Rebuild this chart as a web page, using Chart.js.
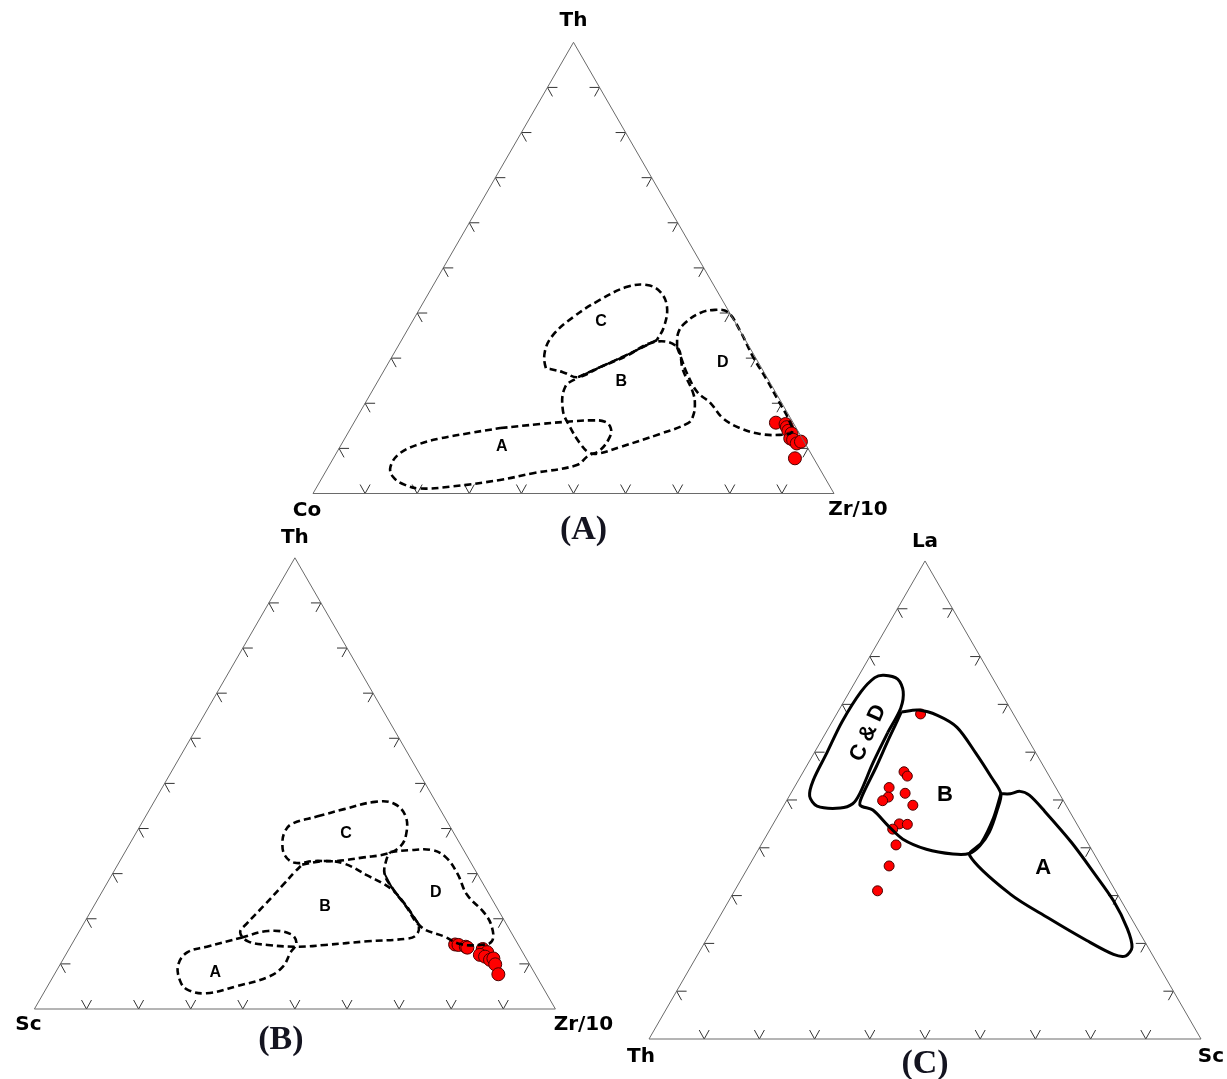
<!DOCTYPE html>
<html><head><meta charset="utf-8">
<script src="https://cdn.jsdelivr.net/npm/chart.js@4.4.1/dist/chart.umd.min.js"></script>
<style>
html,body{margin:0;padding:0;background:#fff;}
#wrap{position:relative;width:1227px;height:1079px;overflow:hidden;background:#fff;}
canvas{position:absolute;left:0;top:0;}
</style></head><body>
<div id="wrap">
<canvas id="cA" width="1227" height="1079"></canvas>
<canvas id="cB" width="1227" height="1079"></canvas>
<canvas id="cC" width="1227" height="1079"></canvas>
</div>
<script>
// ---------------- DATA (percentages: [top, left, right]) ----------------
const tickValues = [10,20,30,40,50,60,70,80,90];

// Diagram (A): Th (top) – Co (left) – Zr/10 (right)
const a_vertexLabels = ['Th','Co','Zr/10'];
const a_samples = [[15.7,3.3,81.0],[15.4,1.6,83.0],[14.7,1.7,83.6],[13.9,1.8,84.3],[13.3,1.5,85.2],[12.2,2.3,85.5],[11.9,1.9,86.2],[11.1,1.6,87.3],[11.5,0.6,87.9],[7.8,3.6,88.6]];
const a_fieldA = [[14.5,56.8,28.7],[15.4,48.7,35.9],[15.9,43.4,40.7],[16.2,38.7,45.1],[15.9,36.0,48.1],[14.5,35.6,49.9],[12.5,36.8,50.7],[9.6,40.1,50.3],[8.3,43.1,48.6],[6.3,46.2,47.5],[4.5,55.5,40.0],[3.0,62.6,34.4],[1.5,73.0,25.5],[1.1,78.9,20.0],[1.9,81.4,16.7],[3.7,82.8,13.5],[5.9,82.1,11.9],[8.9,78.9,12.2],[11.0,74.0,15.0],[12.2,69.5,18.3],[13.4,63.2,23.4]];
const a_fieldB = [[25.8,36.2,38.0],[28.0,30.9,41.1],[30.3,25.0,44.7],[33.6,17.6,48.8],[32.5,13.9,53.6],[27.4,15.3,57.3],[22.3,15.9,61.8],[19.6,16.9,63.5],[17.0,18.6,64.4],[15.6,20.2,64.2],[13.2,26.8,60.0],[10.3,35.9,53.8],[8.8,41.1,50.1],[9.2,42.6,48.2],[11.2,43.2,45.6],[14.7,43.3,42.0],[18.5,42.8,38.7],[23.6,39.8,36.6]];
const a_fieldC = [[34.0,17.0,49.0],[30.5,24.9,44.6],[28.0,30.9,41.1],[25.8,36.2,38.0],[26.9,38.6,34.5],[27.6,40.7,31.7],[27.8,41.4,30.8],[31.4,39.8,28.8],[35.1,36.4,28.5],[39.1,30.5,30.4],[42.9,23.5,33.6],[45.8,16.8,37.4],[46.2,12.8,41.0],[44.7,11.0,44.3],[41.3,11.4,47.3],[36.9,14.2,48.9]];
const a_fieldD = [[32.5,13.9,53.6],[35.6,12.1,52.3],[37.8,9.7,52.5],[40.0,5.7,54.3],[40.7,2.5,56.8],[40.2,0.3,59.5],[36.0,0.0,64.0],[30.3,0.4,69.3],[25.2,0.3,74.5],[20.7,0.4,78.9],[16.3,0.5,83.2],[13.6,1.3,85.1],[13.0,3.9,83.1],[13.2,7.6,79.2],[14.5,10.8,74.7],[16.7,13.0,70.3],[20.1,13.7,66.2],[22.5,15.0,62.5],[26.7,14.9,58.4],[29.6,14.4,56.0]];
const a_solidBC = [[25.8,36.2,38.0],[28.0,30.9,41.1],[30.5,24.9,44.6],[34.0,17.0,49.0]];
const a_fieldNames = ['A','B','C','D'];
const a_fieldLabelPos = [[10.3,58.6,31.1],[24.9,28.4,46.7],[38.0,25.7,36.3],[29.1,6.8,64.1]];

// Diagram (B): Th (top) – Sc (left) – Zr/10 (right)
const b_vertexLabels = ['Th','Sc','Zr/10'];
const b_samples = [[14.3,12.1,73.6],[14.2,11.5,74.3],[13.8,10.3,75.9],[13.6,10.1,76.3],[13.3,7.3,79.4],[12.6,6.8,80.6],[12.0,8.5,79.5],[11.6,7.7,80.7],[10.9,7.1,82.0],[11.2,6.3,82.5],[9.9,6.6,83.5],[7.7,7.1,85.2]];
const b_fieldA = [[15.8,52.4,31.8],[17.3,46.5,36.2],[16.6,42.5,40.9],[14.6,42.4,43.0],[12.6,44.5,42.9],[9.4,47.6,43.0],[7.1,51.6,41.3],[5.1,58.5,36.4],[3.5,65.2,31.3],[4.3,68.5,27.2],[6.3,68.9,24.8],[9.8,67.5,22.7],[12.6,64.3,23.1],[13.8,60.0,26.2]];
const b_fieldB = [[32.0,32.6,35.4],[32.8,27.8,39.4],[32.2,24.4,43.4],[29.6,21.3,49.1],[26.8,18.3,54.9],[24.1,17.4,58.5],[20.5,17.0,62.5],[18.2,17.1,64.7],[16.4,18.5,65.1],[15.6,20.6,63.8],[15.0,28.6,56.4],[14.2,37.1,48.7],[13.8,42.4,43.8],[14.2,48.1,37.7],[15.0,51.5,33.5],[17.0,52.0,31.0],[18.9,49.8,31.3],[22.9,44.5,32.6],[27.6,38.4,34.0],[30.4,34.8,34.8]];
const b_fieldC = [[42.7,24.3,33.0],[44.3,18.4,37.3],[45.9,11.7,42.4],[45.5,8.2,46.3],[42.7,7.4,49.9],[38.7,9.3,52.0],[36.0,11.8,52.2],[34.4,15.2,50.4],[33.6,20.0,46.4],[32.8,25.6,41.6],[32.8,30.0,37.2],[32.4,33.8,33.8],[34.0,34.9,31.1],[36.8,34.0,29.2],[39.5,32.1,28.4],[41.1,29.9,29.0]];
const b_fieldD = [[34.8,14.3,50.9],[35.2,10.4,54.4],[35.2,6.0,58.8],[33.6,4.2,62.2],[30.0,3.8,66.2],[25.3,4.3,70.4],[21.3,3.0,75.7],[18.2,3.1,78.7],[15.0,4.7,80.3],[14.2,7.4,78.4],[14.4,11.1,74.5],[16.0,13.2,70.8],[18.2,16.7,65.1],[22.9,17.3,59.8],[26.8,17.9,55.3],[30.0,17.8,52.2],[33.2,15.8,51.0]];
const b_solidBD = [[30.0,17.8,52.2],[26.8,17.9,55.3],[22.9,17.3,59.8],[18.2,16.7,65.1]];
const b_fieldNames = ['A','B','C','D'];
const b_fieldLabelPos = [[8.0,61.3,30.7],[22.6,32.9,44.5],[38.8,20.8,40.4],[25.7,10.1,64.2]];

// Diagram (C): La (top) – Th (left) – Sc (right)
const c_vertexLabels = ['La','Th','Sc'];
const c_samples = [[68.0,16.8,15.2],[55.9,25.85,18.25],[55.0,25.7,19.3],[52.6,30.2,17.2],[50.6,31.35,18.05],[49.85,32.75,17.4],[51.4,27.9,20.7],[48.9,27.75,23.35],[45.0,32.15,22.85],[44.9,30.75,24.35],[43.9,33.9,22.2],[40.6,34.95,24.45],[36.2,38.4,25.4],[31.0,43.1,25.9]];
const c_fieldCD = [[64.1,24.7,11.2],[57.7,30.6,11.7],[51.5,36.0,12.5],[49.2,38.5,12.3],[48.3,41.2,10.5],[48.7,45.2,6.1],[50.8,45.5,3.7],[54.1,43.2,2.7],[59.8,37.9,2.3],[66.3,31.9,1.8],[72.7,25.2,2.1],[75.6,21.3,3.1],[76.1,19.4,4.5],[75.3,17.3,7.4],[72.7,17.6,9.7],[69.2,19.8,11.0]];
const c_fieldB = [[68.4,20.1,11.5],[68.8,16.8,14.4],[67.7,13.9,18.4],[65.2,11.6,23.2],[59.8,10.9,29.3],[54.8,10.6,34.6],[51.3,10.6,38.1],[47.6,13.2,39.2],[43.3,16.7,40.0],[40.4,19.9,39.7],[38.8,22.6,38.6],[38.7,25.6,35.7],[39.7,29.9,30.4],[41.8,33.1,25.1],[44.7,34.4,20.9],[47.9,35.5,16.6],[48.9,37.3,13.8],[50.8,36.0,13.2],[56.9,30.4,12.7],[62.3,25.6,12.1],[66.6,21.7,11.7]];
const c_fieldA = [[51.3,10.6,38.1],[51.3,8.9,39.8],[51.8,6.9,41.3],[51.0,5.6,43.4],[47.6,4.5,47.9],[41.1,2.9,56.0],[34.6,2.0,63.4],[28.9,1.4,69.7],[23.1,1.8,75.1],[19.2,2.9,77.9],[17.4,4.9,77.7],[17.7,7.0,75.3],[20.6,10.4,69.0],[25.3,15.0,59.7],[30.3,19.4,50.3],[38.4,22.7,38.9],[41.1,19.2,39.7],[46.2,14.5,39.3]];
const c_fieldNames = ['B','A','C & D'];
const c_fieldLabelPos = [[51.0,20.9,28.1],[35.8,10.7,53.5],[64.0,28.3,7.7]];

// ---------------- helpers ----------------
const SQ = Math.sqrt(3) / 2;
function toXY(t) {
  const s = t[0] + t[1] + t[2];
  const top = t[0] / s, right = t[2] / s;
  return { x: right + top / 2, y: top * SQ };
}
function closed(arr) { return arr.concat([arr[0]]).map(toXY); }

function makeDiagram(id, g, cfg) {
  const W = 1227, H = 1079;
  const scales = {
    x: { type: 'linear', min: -g.x0 / g.L, max: (W - g.x0) / g.L, display: false },
    y: { type: 'linear', min: (g.yb - H) / g.L, max: g.yb / g.L, display: false }
  };
  const datasets = [];
  datasets.push({ data: closed([[100,0,0],[0,100,0],[0,0,100]]), showLine: true, borderColor: '#6a6a6a', borderWidth: 1, pointRadius: 0, tension: 0 });
  cfg.fields.forEach(f => datasets.push({ data: closed(f), showLine: true, borderColor: '#000', borderWidth: cfg.fieldWidth, borderDash: cfg.dash, pointRadius: 0, tension: cfg.tension, borderJoinStyle: 'round', borderCapStyle: 'butt' }));
  (cfg.solids || []).forEach(f => datasets.push({ data: f.map(toXY), showLine: true, borderColor: '#000', borderWidth: 2, pointRadius: 0, tension: 0.3 }));
  datasets.push({ data: cfg.samples.map(toXY), showLine: false, pointRadius: cfg.r, pointBackgroundColor: '#ff0000', pointBorderColor: '#4a0000', pointBorderWidth: 1 });

  const decor = {
    id: 'decor' + id,
    beforeDatasetsDraw(chart) {
      const ctx = chart.ctx, sx = chart.scales.x, sy = chart.scales.y;
      const P = t => { const q = toXY(t); return { x: sx.getPixelForValue(q.x), y: sy.getPixelForValue(q.y) }; };
      ctx.save();
      ctx.strokeStyle = '#333'; ctx.lineWidth = 1;
      tickValues.forEach(k => {
        let p = P([0, 100 - k, k]);
        ctx.beginPath(); ctx.moveTo(p.x - 5, p.y - 9); ctx.lineTo(p.x, p.y); ctx.lineTo(p.x + 5, p.y - 9); ctx.stroke();
        p = P([k, 100 - k, 0]);
        ctx.beginPath(); ctx.moveTo(p.x + 10, p.y); ctx.lineTo(p.x, p.y); ctx.lineTo(p.x + 5, p.y + 9); ctx.stroke();
        p = P([k, 0, 100 - k]);
        ctx.beginPath(); ctx.moveTo(p.x - 10, p.y); ctx.lineTo(p.x, p.y); ctx.lineTo(p.x - 5, p.y + 9); ctx.stroke();
      });
      ctx.restore();
    },
    afterDatasetsDraw(chart) {
      const ctx = chart.ctx, sx = chart.scales.x, sy = chart.scales.y;
      const P = t => { const q = toXY(t); return { x: sx.getPixelForValue(q.x), y: sy.getPixelForValue(q.y) }; };
      ctx.save();
      ctx.fillStyle = '#000'; ctx.textAlign = 'center'; ctx.textBaseline = 'middle';
      ctx.font = 'bold 20px "DejaVu Sans", sans-serif';
      const corners = [P([100,0,0]), P([0,100,0]), P([0,0,100])];
      cfg.vertexLabels.forEach((lab, i) => {
        const o = cfg.vOff[i];
        ctx.fillText(lab, corners[i].x + o[0], corners[i].y + o[1]);
      });
      ctx.font = cfg.fieldFont;
      cfg.fieldNames.forEach((lab, i) => {
        const p = P(cfg.fieldLabelPos[i]);
        const rot = (cfg.labelRot && cfg.labelRot[i]) || 0;
        ctx.save(); ctx.translate(p.x, p.y); ctx.rotate(rot * Math.PI / 180);
        ctx.fillText(lab, 0, 0); ctx.restore();
      });
      ctx.font = 'bold 34px "Liberation Serif", "Times New Roman", serif';
      ctx.fillStyle = '#141420';
      const mid = P([0, 50, 50]);
      ctx.fillText(cfg.panel, mid.x + cfg.panelOff[0], mid.y + cfg.panelOff[1]);
      ctx.restore();
    }
  };

  new Chart(document.getElementById(id), {
    type: 'scatter',
    data: { datasets },
    options: {
      responsive: false, animation: false, events: [],
      layout: { padding: 0, autoPadding: false },
      plugins: { legend: { display: false }, tooltip: { enabled: false } },
      scales
    },
    plugins: [decor]
  });
}

makeDiagram('cA', { x0: 313, yb: 493.5, L: 521 }, {
  samples: a_samples, fields: [a_fieldA, a_fieldB, a_fieldC, a_fieldD], solids: [a_solidBC],
  fieldWidth: 2.6, dash: [7, 4], r: 6.5, tension: 0.4,
  vertexLabels: a_vertexLabels, vOff: [[0, -22], [-6, 17], [24, 16]],
  fieldNames: a_fieldNames, fieldLabelPos: a_fieldLabelPos, fieldFont: 'bold 16px "Liberation Sans", Arial, sans-serif',
  panel: '(A)', panelOff: [10, 37]
});
makeDiagram('cB', { x0: 34.4, yb: 1009, L: 521 }, {
  samples: b_samples, fields: [b_fieldA, b_fieldB, b_fieldC, b_fieldD], solids: [b_solidBD],
  fieldWidth: 2.6, dash: [7, 4], r: 6.5, tension: 0.4,
  vertexLabels: b_vertexLabels, vOff: [[0, -20], [-6, 16], [28, 16]],
  fieldNames: b_fieldNames, fieldLabelPos: b_fieldLabelPos, fieldFont: 'bold 16px "Liberation Sans", Arial, sans-serif',
  panel: '(B)', panelOff: [-14, 31]
});
makeDiagram('cC', { x0: 649, yb: 1039, L: 552 }, {
  samples: c_samples, fields: [c_fieldCD, c_fieldB, c_fieldA], solids: [],
  fieldWidth: 3, dash: [], r: 5, tension: 0.3,
  vertexLabels: c_vertexLabels, vOff: [[0, -19], [-8, 18], [10, 18]],
  fieldNames: c_fieldNames, fieldLabelPos: c_fieldLabelPos, fieldFont: 'bold 22px "Liberation Sans", Arial, sans-serif',
  labelRot: [0, 0, -66],
  panel: '(C)', panelOff: [0, 25]
});
</script>
</body></html>
